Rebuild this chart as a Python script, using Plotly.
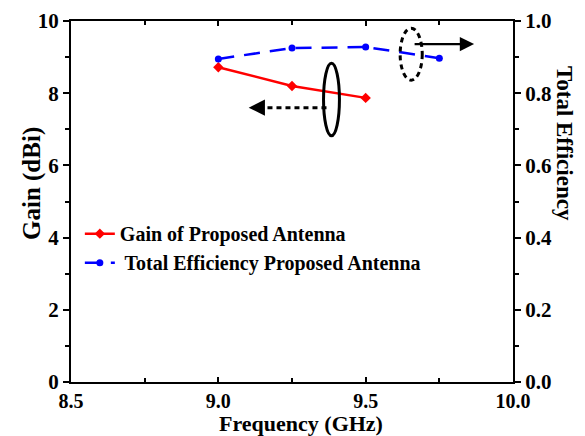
import plotly.graph_objects as go

freq_gain = [9.0, 9.25, 9.5]
gain = [8.72, 8.20, 7.87]
freq_eff = [9.0, 9.25, 9.5, 9.75]
eff = [0.895, 0.925, 0.928, 0.897]

FONT = "Liberation Serif"
L, R, T, B = 63, 80, 13, 62
W, H = 585, 436
PW, PH = W - L - R, H - T - B


def px_x(p):
    return (p - L) / PW


def px_y(p):
    return (H - B - p) / PH


fig = go.Figure()
fig.add_trace(go.Scatter(
    x=freq_gain, y=gain, name="<b>Gain of Proposed Antenna</b>",
    mode="lines+markers", line=dict(color="#ff0000", width=2.5),
    marker=dict(symbol="diamond", size=8, color="#ff0000")))
fig.add_trace(go.Scatter(
    x=freq_eff, y=eff, name="<b> Total Efficiency Proposed Antenna</b>",
    mode="lines+markers", yaxis="y2",
    line=dict(color="#0000ff", width=2.5, dash="16px,10px"),
    marker=dict(symbol="circle", size=7, color="#0000ff")))

# annotation ellipses
fig.add_shape(type="circle", xref="x", yref="y", x0=9.357, x1=9.411, y0=6.82, y1=8.83,
              line=dict(color="black", width=3))
fig.add_shape(type="circle", xref="x", yref="y", x0=9.617, x1=9.692, y0=8.36, y1=9.80,
              line=dict(color="black", width=3, dash="5px,4px"))
# dotted arrow shaft
fig.add_shape(type="line", xref="x", yref="y", x0=9.367, x1=9.15, y0=7.60, y1=7.60,
              line=dict(color="black", width=3, dash="5px,4px"))
fig.add_annotation(x=9.103, y=7.60, ax=9.16, ay=7.60, xref="x", yref="y", axref="x", ayref="y",
                   showarrow=True, arrowhead=2, arrowsize=1.3, arrowwidth=2.5, arrowcolor="black", text="")
# solid arrow
fig.add_annotation(x=9.868, y=9.36, ax=9.661, ay=9.36, xref="x", yref="y", axref="x", ayref="y",
                   showarrow=True, arrowhead=2, arrowsize=1.3, arrowwidth=2.2, arrowcolor="black", text="")

# axis titles as annotations for exact placement
fig.add_annotation(x=px_x(557), y=px_y(135), xref="paper", yref="paper", xanchor="center", yanchor="middle",
                   text="<b>Total Efficiency</b>", textangle=90, showarrow=False,
                   font=dict(family=FONT, size=23, color="black"))
fig.add_annotation(x=px_x(24), y=px_y(176), xref="paper", yref="paper", xanchor="center", yanchor="middle",
                   text="<b>Gain (dBi)</b>", textangle=-90, showarrow=False,
                   font=dict(family=FONT, size=25, color="black"))
fig.add_annotation(x=px_x(293), y=px_y(415), xref="paper", yref="paper", xanchor="center", yanchor="middle",
                   text="<b>Frequency (GHz)</b>", showarrow=False,
                   font=dict(family=FONT, size=22, color="black"))

axis_font = dict(family=FONT, size=21, color="black")
fig.update_layout(
    width=W, height=H,
    margin=dict(l=L, r=R, t=T, b=B, autoexpand=False),
    plot_bgcolor="white", paper_bgcolor="white",
    font=dict(family=FONT, color="black"),
    showlegend=True,
    legend=dict(x=0.02, y=0.465, xanchor="left", yanchor="top",
                bgcolor="rgba(0,0,0,0)", font=dict(family=FONT, size=20, color="black"),
                itemwidth=30, tracegroupgap=0),
    xaxis=dict(range=[8.5, 10.0], tickvals=[8.5, 9.0, 9.5, 10.0],
               ticktext=["<b>8.5</b>", "<b>9.0</b>", "<b>9.5</b>", "<b>10.0</b>"],
               ticks="inside", ticklen=5, tickwidth=2, tickcolor="black",
               minor=dict(tickvals=[8.75, 9.25, 9.75], ticks="inside", ticklen=4, tickwidth=2, tickcolor="black"),
               showline=True, linecolor="black", linewidth=2, mirror="ticks",
               showgrid=False, zeroline=False, tickfont=dict(family=FONT, size=20, color="black"),
               automargin=False),
    yaxis=dict(range=[0, 10], tickvals=[0, 2, 4, 6, 8, 10],
               ticktext=["<b>0</b>", "<b>2</b>", "<b>4</b>", "<b>6</b>", "<b>8</b>", "<b>10</b>"],
               ticks="outside", ticklen=6, tickwidth=2, tickcolor="black",
               minor=dict(tickvals=[1, 3, 5, 7, 9], ticks="outside", ticklen=4, tickwidth=2, tickcolor="black"),
               showline=True, linecolor="black", linewidth=2,
               showgrid=False, zeroline=False, tickfont=axis_font, automargin=False),
    yaxis2=dict(range=[0, 1], overlaying="y", side="right",
                tickvals=[0, 0.2, 0.4, 0.6, 0.8, 1.0],
                ticktext=["<b>0.0</b>", "<b>0.2</b>", "<b>0.4</b>", "<b>0.6</b>", "<b>0.8</b>", "<b>1.0</b>"],
                ticks="outside", ticklen=6, tickwidth=2, tickcolor="black",
                minor=dict(tickvals=[0.1, 0.3, 0.5, 0.7, 0.9], ticks="outside", ticklen=4, tickwidth=2, tickcolor="black"),
                showline=True, linecolor="black", linewidth=2,
                showgrid=False, zeroline=False, tickfont=axis_font, automargin=False),
)

fig.write_html("out.html")
